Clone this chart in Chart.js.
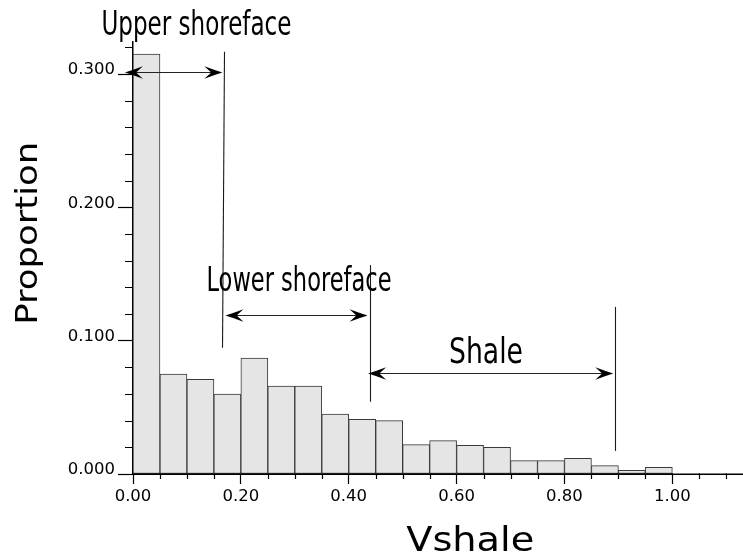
<!DOCTYPE html>
<html>
<head>
<meta charset="utf-8">
<script src="https://cdn.jsdelivr.net/npm/chart.js@4/dist/chart.umd.min.js"></script>
<style>
html,body{margin:0;padding:0;background:#fff;}
#wrap{width:743px;height:558px;}
</style>
</head>
<body>
<div id="wrap"><canvas id="c" width="743" height="558"></canvas></div>
<script>
// ---- data ----
const binLower   = [0.00,0.05,0.10,0.15,0.20,0.25,0.30,0.35,0.40,0.45,0.50,0.55,0.60,0.65,0.70,0.75,0.80,0.85,0.90,0.95,1.00,1.05,1.10];
const proportion = [0.315,0.075,0.071,0.060,0.087,0.066,0.066,0.045,0.041,0.040,0.022,0.025,0.0215,0.020,0.010,0.010,0.0117,0.0063,0.0027,0.005,0.0005,0.0005,0.0005];
const binWidth   = 0.05;

const xMajorTicks = [0.0,0.2,0.4,0.6,0.8,1.0];
const xTickLabels = ['0.00','0.20','0.40','0.60','0.80','1.00'];
const xMinorTicks = [0.05,0.10,0.15,0.25,0.30,0.35,0.45,0.50,0.55,0.65,0.70,0.75,0.85,0.90,0.95,1.05,1.10];
const yMajorTicks = [0.0,0.1,0.2,0.3];
const yTickLabels = ['0.000','0.100','0.200','0.300'];
const yMinorTicks = [0.02,0.04,0.06,0.08,0.12,0.14,0.16,0.18,0.22,0.24,0.26,0.28,0.32];

const xTitle = 'Vshale';
const yTitle = 'Proportion';

// facies zones (Vshale ranges shown by arrows) and boundary lines
const faciesNames     = ['Upper shoreface','Lower shoreface','Shale'];
const faciesArrowFrom = [-0.015, 0.1714, 0.436];
const faciesArrowTo   = [0.1657, 0.4349, 0.8905];
const faciesBoundary  = [0.1667, 0.4391, 0.8937];

// ---- layout / style (not data) ----
const annotLayout = [
  {arrowY:0.3017, lineTop:0.3167, lineBottom:0.0947, lineDxTop:0.0016, lineDxBottom:-0.0016, textX:0.1176, textY:0.3293, textW:190, font:34},
  {arrowY:0.1193, lineTop:0.1567, lineBottom:0.0542, lineDxTop:0, lineDxBottom:0, textX:0.3078, textY:0.1376, textW:185, font:34},
  {arrowY:0.0760, lineTop:0.1253, lineBottom:0.0173, lineDxTop:0, lineDxBottom:0, textX:0.6544, textY:0.0835, textW:74,  font:35}
];
const AXIS_FONT = "'DejaVu Sans', 'Liberation Sans', sans-serif";
const NARROW_FONT = "'DejaVu Sans Condensed', 'DejaVu Sans', sans-serif";

function drawFitText(ctx, text, cx, baseY, size, targetW, family, rotate) {
  ctx.save();
  ctx.font = size + 'px ' + family;
  const w = ctx.measureText(text).width;
  ctx.translate(cx, baseY);
  if (rotate) ctx.rotate(-Math.PI/2);
  ctx.scale(targetW / w, 1);
  ctx.textAlign = 'center';
  ctx.textBaseline = 'alphabetic';
  ctx.fillStyle = '#000';
  ctx.fillText(text, 0, 0);
  ctx.restore();
}

function arrowHead(ctx, tx, ty, dir) {
  const L = 18, W = 6.2, N = 0.62;
  ctx.save();
  ctx.translate(tx, ty);
  ctx.scale(dir, 1);
  ctx.beginPath();
  ctx.moveTo(0, 0);
  ctx.quadraticCurveTo(-L*0.5, W*0.45, -L, W);
  ctx.lineTo(-L*N, 0);
  ctx.lineTo(-L, -W);
  ctx.quadraticCurveTo(-L*0.5, -W*0.45, 0, 0);
  ctx.closePath();
  ctx.fillStyle = '#000';
  ctx.fill();
  ctx.restore();
}

const annotPlugin = {
  id: 'annot',
  afterDraw(chart) {
    const ctx = chart.ctx;
    const xs = chart.scales.x, ys = chart.scales.y;
    const X = v => xs.getPixelForValue(v), Y = v => ys.getPixelForValue(v);
    const area = chart.chartArea;
    ctx.save();
    // minor ticks
    ctx.strokeStyle = '#000';
    ctx.lineWidth = 1.2;
    ctx.beginPath();
    yMinorTicks.forEach(v => { const p = Math.round(Y(v)) + 0.5; ctx.moveTo(area.left - 8, p); ctx.lineTo(area.left, p); });
    xMinorTicks.forEach(v => { const p = Math.round(X(v)) + 0.5; ctx.moveTo(p, area.bottom); ctx.lineTo(p, area.bottom + 5); });
    ctx.stroke();

    // facies annotations
    faciesNames.forEach((name, i) => {
      const L = annotLayout[i];
      ctx.strokeStyle = '#1a1a1a';
      ctx.lineWidth = 1.1;
      ctx.beginPath();
      ctx.moveTo(Math.round(X(faciesBoundary[i] + L.lineDxTop)) + 0.5, Y(L.lineTop));
      ctx.lineTo(Math.round(X(faciesBoundary[i] + L.lineDxBottom)) + 0.5, Y(L.lineBottom));
      ctx.stroke();
      const ay = Math.round(Y(L.arrowY)) + 0.5;
      const x1 = X(faciesArrowFrom[i]), x2 = X(faciesArrowTo[i]);
      ctx.strokeStyle = '#222';
      ctx.beginPath();
      ctx.moveTo(x1 + 6, ay); ctx.lineTo(x2 - 6, ay);
      ctx.stroke();
      arrowHead(ctx, x1, ay, -1);
      arrowHead(ctx, x2, ay, 1);
      drawFitText(ctx, name, X(L.textX), Y(L.textY), L.font, L.textW, NARROW_FONT, false);
    });

    // axis titles
    drawFitText(ctx, xTitle, X(0.6252), chart.height - 6.8, 34, 128, AXIS_FONT, false);
    drawFitText(ctx, yTitle, 36.7, Y(0.1805), 30, 183, AXIS_FONT, true);
    ctx.restore();
  }
};

const barData = binLower.map((b, i) => ({x: b + binWidth/2, y: proportion[i]}));

new Chart(document.getElementById('c'), {
  type: 'bar',
  data: {
    datasets: [{
      data: barData,
      backgroundColor: '#e5e5e5',
      borderColor: '#3a3a3a',
      borderWidth: 1,
      borderSkipped: false,
      barPercentage: 1.0,
      categoryPercentage: 1.0
    }]
  },
  options: {
    responsive: false,
    animation: false,
    devicePixelRatio: 1,
    layout: {padding: {top: 42, right: 0, bottom: 0, left: 0}},
    plugins: {legend: {display: false}, tooltip: {enabled: false}, title: {display: false}},
    scales: {
      x: {
        type: 'linear',
        offset: false,
        min: 0,
        max: 1.131,
        afterBuildTicks: s => { s.ticks = xMajorTicks.map(v => ({value: v})); },
        afterFit: s => { s.height = 84; },
        grid: {offset: false, drawOnChartArea: false, drawTicks: true, tickLength: 10, tickColor: '#000', tickWidth: 1.2},
        border: {display: true, color: '#000', width: 2},
        ticks: {
          autoSkip: false,
          maxRotation: 0,
          padding: 3,
          color: '#000',
          font: {family: AXIS_FONT, size: 16.5},
          callback: (v) => { const k = xMajorTicks.findIndex(t => Math.abs(t - v) < 1e-6); return k >= 0 ? xTickLabels[k] : ''; }
        }
      },
      y: {
        type: 'linear',
        min: 0,
        max: 0.324,
        afterBuildTicks: s => { s.ticks = yMajorTicks.map(v => ({value: v})); },
        afterFit: s => { s.width = 133; },
        grid: {drawOnChartArea: false, drawTicks: true, tickLength: 15, tickColor: '#000', tickWidth: 1.2},
        border: {display: true, color: '#000', width: 1.5},
        ticks: {
          autoSkip: false,
          padding: 3,
          labelOffset: -4,
          color: '#000',
          font: {family: AXIS_FONT, size: 16.5},
          callback: (v) => { const k = yMajorTicks.findIndex(t => Math.abs(t - v) < 1e-6); return k >= 0 ? yTickLabels[k] : ''; }
        }
      }
    }
  },
  plugins: [annotPlugin]
});
</script>
</body>
</html>
